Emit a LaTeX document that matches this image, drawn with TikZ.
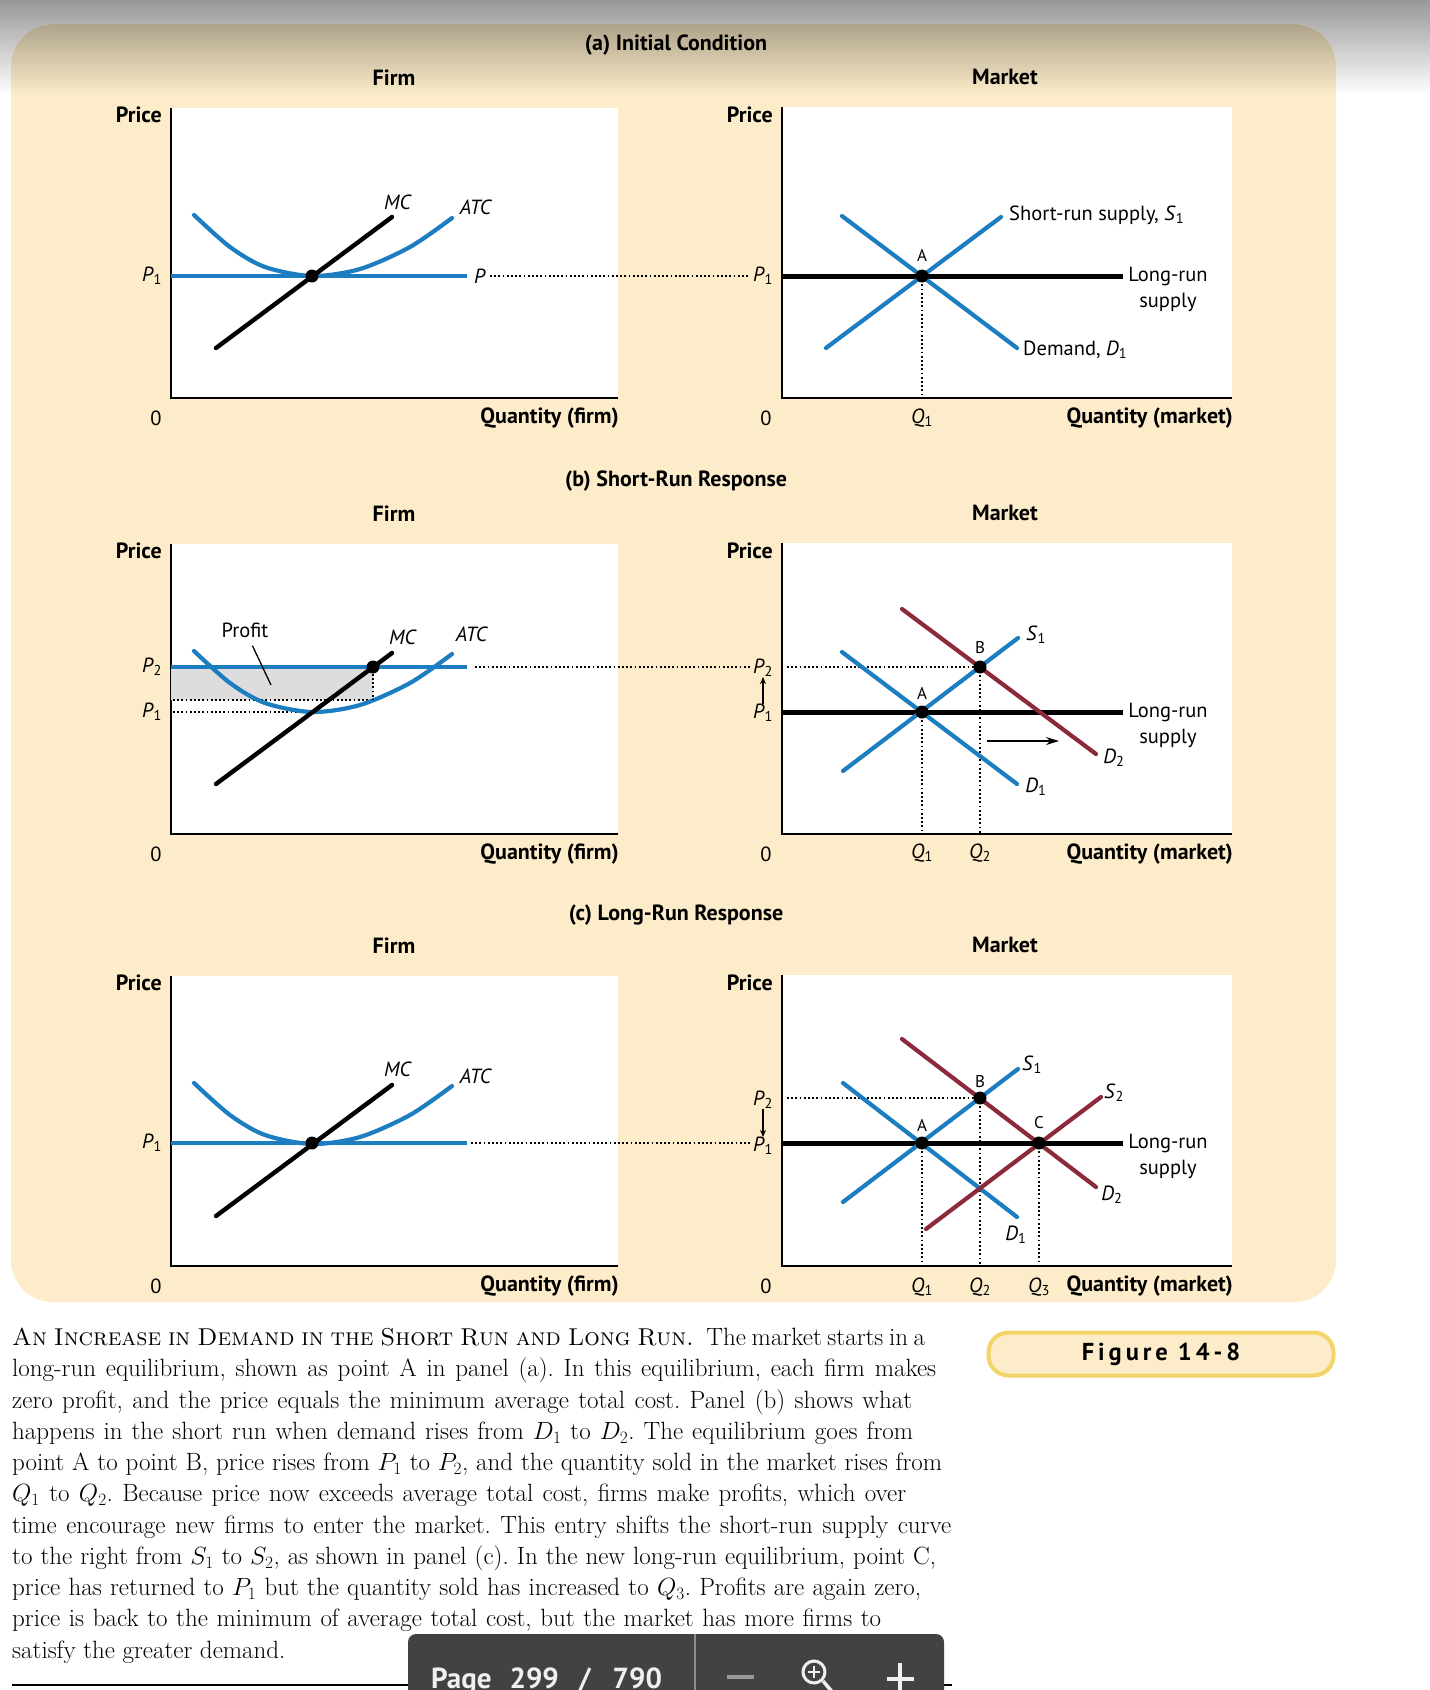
\documentclass[tikz,border=0pt]{standalone}
\usepackage{fontspec}
\usetikzlibrary{arrows.meta}
\newfontfamily\ptsans{PT Sans}
\newfontfamily\figfont{PT Sans}[LetterSpace=16]
\definecolor{econblue}{RGB}{28,125,192}
\definecolor{econred}{RGB}{140,42,60}
\definecolor{panelcream}{RGB}{252,236,201}
\definecolor{paneltan}{RGB}{174,163,139}
\definecolor{topgray}{RGB}{152,152,152}
\definecolor{profitgray}{RGB}{221,221,221}
\definecolor{figborder}{RGB}{243,212,104}
\definecolor{barbg}{RGB}{66,66,66}
\definecolor{barfg}{RGB}{240,240,240}
\newcommand{\itsub}[2]{\textit{#1}\textsubscript{\upshape #2}}
\tikzset{
  headlbl/.style={inner sep=0pt, font=\ptsans\bfseries\fontsize{22}{26}\selectfont},
  txtlbl/.style={inner sep=0pt, font=\ptsans\fontsize{20.5}{26}\selectfont},
  ptlbl/.style={inner sep=0pt, font=\ptsans\fontsize{17}{20}\selectfont},
  axisline/.style={line width=2pt},
  bluecv/.style={draw=econblue, line width=4.2pt, line cap=round},
  redcv/.style={draw=econred, line width=4.2pt, line cap=round},
  blackcv/.style={draw=black, line width=4.4pt, line cap=round},
  lrline/.style={draw=black, line width=5pt},
  guide/.style={draw=black, line width=1.8pt, dash pattern=on 1.8pt off 2.4pt},
  eqpt/.style={circle, fill=black, inner sep=0pt, minimum size=13pt},
  shiftarrow/.style={line width=1.5pt, -{Stealth[length=13pt,width=8pt]}},
  smallarrow/.style={line width=1.5pt, -{Stealth[length=7pt,width=6pt]}},
  captxt/.style={anchor=base west, inner sep=0pt, font=\fontsize{25}{31}\selectfont\frenchspacing},
  figtag/.style={draw=figborder, line width=4pt, fill=panelcream, rounded corners=20pt,
    minimum width=345pt, minimum height=43pt, inner sep=0pt,
    font=\figfont\bfseries\fontsize{24.5}{24.5}\selectfont}
}
\begin{document}
\begin{tikzpicture}[x=1pt,y=-1pt]
\useasboundingbox (0,0) rectangle (1430,1690);
\begin{scope}
\clip (0,0) rectangle (1430,1690);
\fill[white] (0,0) rectangle (1430,1690);
\shade[top color=topgray, bottom color=white] (0,0) rectangle (1430,95);
\fill[panelcream, rounded corners=42pt] (11,24) rectangle (1336,1302);
\begin{scope}
  \clip[rounded corners=42pt] (11,24) rectangle (1336,1302);
  \shade[top color=paneltan, bottom color=panelcream] (11,24) rectangle (1336,95);
\end{scope}

% titles
\node[headlbl] (ttl-a) at (676,45) {(a) Initial Condition};
\node[headlbl] (ttl-b) at (676,481) {(b) Short-Run Response};
\node[headlbl] (ttl-c) at (676,915) {(c) Long-Run Response};

% plot boxes and axes
\foreach \oy/\pn in {0/a,436/b,868/c}{
  \fill[white] (171,108+\oy) rectangle (618,398+\oy);
  \fill[white] (782,107+\oy) rectangle (1232,398+\oy);
  \coordinate (fy-\pn) at (171,108+\oy);
  \coordinate (fx-\pn) at (618,398+\oy);
  \coordinate (my-\pn) at (782,107+\oy);
  \coordinate (mx-\pn) at (1232,398+\oy);
  \draw[axisline] (fy-\pn) |- (fx-\pn);
  \draw[axisline] (my-\pn) |- (mx-\pn);
  \node[headlbl] (firm-\pn) at (394,78+\oy) {Firm};
  \node[headlbl] (mkt-\pn) at (1005,77+\oy) {Market};
  \node[headlbl, anchor=east] (fprice-\pn) at (162,115+\oy) {Price};
  \node[headlbl, anchor=east] (mprice-\pn) at (773,115+\oy) {Price};
  \node[txtlbl] (fzero-\pn) at (156,418+\oy) {0};
  \node[txtlbl] (mzero-\pn) at (766,418+\oy) {0};
  \node[headlbl, anchor=east] (fqty-\pn) at (619,418+\oy) {Quantity (firm)};
  \node[headlbl, anchor=east] (mqty-\pn) at (1233,418+\oy) {Quantity (market)};
}

% profit area
\fill[profitgray] (171,667) rectangle (373,700);
\coordinate (atcq-l) at (173,700);
\coordinate (atcq-r) at (373,700);
\coordinate (p1f-l) at (173,712);
\coordinate (p1f-r) at (300,712);
\draw[guide] (atcq-l) -- (atcq-r);
\draw[guide] (p1f-l) -- (p1f-r);

% firm curves
\foreach \oy/\pn/\py/\dx in {0/a/276/312,436/b/667/373,868/c/1143/312}{
  \draw[bluecv] plot[smooth] coordinates {(194,215+\oy) (230,247+\oy) (265,267+\oy)
    (312,276+\oy) (360,269+\oy) (410,247+\oy) (452,218+\oy)};
  \coordinate (pl-\pn) at (171,\py);
  \coordinate (pr-\pn) at (467,\py);
  \draw[bluecv, line cap=butt] (pl-\pn) -- (pr-\pn);
  \coordinate (mclo-\pn) at (216,348+\oy);
  \coordinate (mchi-\pn) at (392,217+\oy);
  \draw[blackcv] (mclo-\pn) -- (mchi-\pn);
  \node[eqpt] (fdot-\pn) at (\dx,\py) {};
}
\draw[guide] (fdot-b) -- (atcq-r);

% firm labels
\node[txtlbl] (mc-a) at (398,202) {\textit{MC}};
\node[txtlbl] (atc-a) at (476,207) {\textit{ATC}};
\node[txtlbl] (mc-b) at (403,637) {\textit{MC}};
\node[txtlbl] (atc-b) at (472,634) {\textit{ATC}};
\node[txtlbl] (mc-c) at (398,1069) {\textit{MC}};
\node[txtlbl] (atc-c) at (476,1076) {\textit{ATC}};
\node[txtlbl] (plbl-a) at (480,276) {\textit{P}};
\node[txtlbl] (fp1-a) at (152,276) {\itsub{P}{1}};
\node[txtlbl] (fp2-b) at (152,667) {\itsub{P}{2}};
\node[txtlbl] (fp1-b) at (152,712) {\itsub{P}{1}};
\node[txtlbl] (fp1-c) at (152,1143) {\itsub{P}{1}};
\node[txtlbl] (profit) at (245,630) {Profit};
\coordinate (profit-tip) at (271,685);
\draw[line width=1.3pt, shorten <=9pt] (profit) -- (profit-tip);

% market price labels
\node[txtlbl] (mp1-a) at (763,276) {\itsub{P}{1}};
\node[txtlbl] (mp2-b) at (763,668) {\itsub{P}{2}};
\node[txtlbl] (mp1-b) at (763,713) {\itsub{P}{1}};
\node[txtlbl] (mp2-c) at (763,1100) {\itsub{P}{2}};
\node[txtlbl] (mp1-c) at (763,1146) {\itsub{P}{1}};
\draw[smallarrow] (mp1-b) -- (mp2-b);
\draw[smallarrow] (mp2-c) -- (mp1-c);

% firm to market guides
\draw[guide, shorten <=4pt, shorten >=3pt] (plbl-a.east) -- (mp1-a.west |- plbl-a.east);
\draw[guide, shorten <=8pt, shorten >=3pt] (pr-b) -- (mp2-b.west |- pr-b);
\draw[guide, shorten <=4pt, shorten >=3pt] (pr-c) -- (mp1-c.west |- pr-c);

% market (a)
\coordinate (q1-a) at (922,398);
\coordinate (A-a-c) at (922,276);
\draw[guide] (A-a-c) -- (q1-a);
\coordinate (lrl-a) at (782,276);
\coordinate (lrr-a) at (1123,276);
\draw[lrline] (lrl-a) -- (lrr-a);
\coordinate (s1lo-a) at (826,348);
\coordinate (s1hi-a) at (1001,217);
\coordinate (d1hi-a) at (842,216);
\coordinate (d1lo-a) at (1017,348);
\draw[bluecv] (s1lo-a) -- (s1hi-a);
\draw[bluecv] (d1hi-a) -- (d1lo-a);
\node[eqpt] (A-a) at (A-a-c) {};
\node[ptlbl] (Albl-a) at (922,255) {A};
\node[txtlbl, anchor=west] (srs-a) at (1009,215) {Short-run supply, \itsub{S}{1}};
\node[txtlbl, anchor=west] (dem-a) at (1023,350) {Demand, \itsub{D}{1}};
\node[txtlbl, align=center] (lrs-a) at (1168,289) {Long-run\\supply};
\node[txtlbl] (q1lbl-a) at (922,418) {\itsub{Q}{1}};

% market (b)
\coordinate (A-b-c) at (922,712);
\coordinate (B-b-c) at (980,667);
\coordinate (p2m-b) at (787,667);
\coordinate (q1-b) at (922,834);
\coordinate (q2-b) at (980,834);
\draw[guide] (p2m-b) -- (B-b-c);
\draw[guide] (A-b-c) -- (q1-b);
\draw[guide] (B-b-c) -- (q2-b);
\coordinate (lrl-b) at (782,712);
\coordinate (lrr-b) at (1123,712);
\draw[lrline] (lrl-b) -- (lrr-b);
\coordinate (s1lo-b) at (843,771);
\coordinate (s1hi-b) at (1018,638);
\coordinate (d1hi-b) at (842,652);
\coordinate (d1lo-b) at (1017,784);
\coordinate (d2hi-b) at (902,609);
\coordinate (d2lo-b) at (1096,754);
\draw[redcv] (d2hi-b) -- (d2lo-b);
\draw[bluecv] (s1lo-b) -- (s1hi-b);
\draw[bluecv] (d1hi-b) -- (d1lo-b);
\node[eqpt] (A-b) at (A-b-c) {};
\node[eqpt] (B-b) at (B-b-c) {};
\node[ptlbl] (Albl-b) at (922,693) {A};
\node[ptlbl] (Blbl-b) at (980,648) {B};
\coordinate (shift-from) at (987,741);
\coordinate (shift-to) at (1059,741);
\draw[shiftarrow] (shift-from) -- (shift-to);
\node[txtlbl] (s1lbl-b) at (1036,635) {\itsub{S}{1}};
\node[txtlbl] (d1lbl-b) at (1036,787) {\itsub{D}{1}};
\node[txtlbl] (d2lbl-b) at (1114,758) {\itsub{D}{2}};
\node[txtlbl, align=center] (lrs-b) at (1168,725) {Long-run\\supply};
\node[txtlbl] (q1lbl-b) at (922,853) {\itsub{Q}{1}};
\node[txtlbl] (q2lbl-b) at (980,853) {\itsub{Q}{2}};

% market (c)
\coordinate (A-c-c) at (922,1143);
\coordinate (B-c-c) at (980,1098);
\coordinate (C-c-c) at (1039,1143);
\coordinate (p2m-c) at (787,1098);
\coordinate (q1-c) at (922,1266);
\coordinate (q2-c) at (980,1266);
\coordinate (q3-c) at (1039,1266);
\draw[guide] (p2m-c) -- (B-c-c);
\draw[guide] (A-c-c) -- (q1-c);
\draw[guide] (B-c-c) -- (q2-c);
\draw[guide] (C-c-c) -- (q3-c);
\coordinate (lrl-c) at (782,1143);
\coordinate (lrr-c) at (1123,1143);
\draw[lrline] (lrl-c) -- (lrr-c);
\coordinate (s1lo-c) at (843,1202);
\coordinate (s1hi-c) at (1018,1069);
\coordinate (d1hi-c) at (843,1083);
\coordinate (d1lo-c) at (1017,1217);
\coordinate (d2hi-c) at (902,1039);
\coordinate (d2lo-c) at (1096,1187);
\coordinate (s2lo-c) at (926,1229);
\coordinate (s2hi-c) at (1101,1097);
\draw[redcv] (d2hi-c) -- (d2lo-c);
\draw[bluecv] (s1lo-c) -- (s1hi-c);
\draw[bluecv] (d1hi-c) -- (d1lo-c);
\draw[redcv] (s2lo-c) -- (s2hi-c);
\node[eqpt] (A-c) at (A-c-c) {};
\node[eqpt] (B-c) at (B-c-c) {};
\node[eqpt] (C-c) at (C-c-c) {};
\node[ptlbl] (Albl-c) at (922,1125) {A};
\node[ptlbl] (Blbl-c) at (980,1082) {B};
\node[ptlbl] (Clbl-c) at (1039,1123) {C};
\node[txtlbl] (s1lbl-c) at (1032,1065) {\itsub{S}{1}};
\node[txtlbl] (s2lbl-c) at (1114,1093) {\itsub{S}{2}};
\node[txtlbl] (d2lbl-c) at (1112,1195) {\itsub{D}{2}};
\node[txtlbl] (d1lbl-c) at (1016,1235) {\itsub{D}{1}};
\node[txtlbl, align=center] (lrs-c) at (1168,1156) {Long-run\\supply};
\node[txtlbl] (q1lbl-c) at (922,1287) {\itsub{Q}{1}};
\node[txtlbl] (q2lbl-c) at (980,1287) {\itsub{Q}{2}};
\node[txtlbl] (q3lbl-c) at (1039,1287) {\itsub{Q}{3}};

% caption
\node[figtag] (figtag) at (1161,1354) {Figure 14-8};
\node[captxt] (cap1) at (12,1345.5) {\makebox[913pt][s]{{\fontsize{24.4}{31}\selectfont\textsc{An Increase in Demand in the Short Run and Long Run.}}\enspace The market starts in a}};
\node[captxt] (cap2) at (12,1376.75) {\makebox[924pt][s]{long-run equilibrium, shown as point A in panel (a). In this equilibrium, each firm makes}};
\node[captxt] (cap3) at (12,1408) {\makebox[900pt][s]{zero profit, and the price equals the minimum average total cost. Panel (b) shows what}};
\node[captxt] (cap4) at (12,1439.25) {\makebox[901pt][s]{happens in the short run when demand rises from $D_1$ to $D_2$. The equilibrium goes from}};
\node[captxt] (cap5) at (12,1470.5) {\makebox[930pt][s]{point A to point B, price rises from $P_1$ to $P_2$, and the quantity sold in the market rises from}};
\node[captxt] (cap6) at (12,1501.75) {\makebox[894pt][s]{$Q_1$ to $Q_2$. Because price now exceeds average total cost, firms make profits, which over}};
\node[captxt] (cap7) at (12,1533) {\makebox[939pt][s]{time encourage new firms to enter the market. This entry shifts the short-run supply curve}};
\node[captxt] (cap8) at (12,1564.25) {\makebox[924pt][s]{to the right from $S_1$ to $S_2$, as shown in panel (c). In the new long-run equilibrium, point C,}};
\node[captxt] (cap9) at (12,1595.5) {\makebox[909pt][s]{price has returned to $P_1$ but the quantity sold has increased to $Q_3$. Profits are again zero,}};
\node[captxt] (cap10) at (12,1626.75) {\makebox[869pt][s]{price is back to the minimum of average total cost, but the market has more firms to}};
\node[captxt] (cap11) at (12,1658) {satisfy the greater demand.};
\draw[line width=1.5pt] (12,1685) -- (952,1685);

% viewer bar
\fill[barbg, rounded corners=8pt] (408,1634) rectangle (944,1730);
\draw[line width=1.5pt, draw=black!45] (695,1634) -- (695,1690);
\node[anchor=base west, inner sep=0pt, text=barfg, font=\ptsans\bfseries\fontsize{29}{30}\selectfont]
  (pageno) at (431,1688) {Page\hspace{18pt}299\hspace{20pt}/\hspace{22pt}790};
\fill[black!40!white] (727,1675) rectangle (754,1679);
\draw[barfg, line width=3pt] (814,1672) circle (11pt);
\draw[barfg, line width=2.2pt] (808,1672) -- (820,1672) (814,1666) -- (814,1678);
\draw[barfg, line width=3.5pt] (823,1681) -- (834,1694);
\draw[barfg, line width=3.5pt] (900,1663) -- (900,1695) (887,1679) -- (914,1679);
\end{scope}
\end{tikzpicture}
\end{document}
